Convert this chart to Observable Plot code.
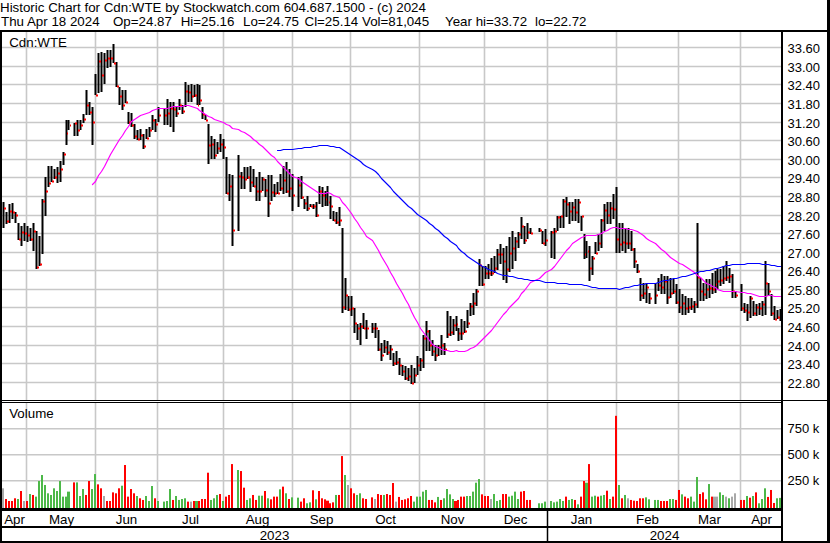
<!DOCTYPE html>
<html>
<head>
<meta charset="utf-8">
<script src="https://cdn.jsdelivr.net/npm/d3@7"></script>
<script src="https://cdn.jsdelivr.net/npm/@observablehq/plot@0.6"></script>
<style>
  html, body { margin: 0; padding: 0; background: #fff; }
  #chart { position: relative; width: 830px; height: 543px; overflow: hidden; background: #fff;
           font-family: "Liberation Sans", Arial, Helvetica, sans-serif; color: #000; }
  .hdr { position: absolute; font-size: 13.33px; line-height: 14px; white-space: pre; }
  .blk { position: absolute; background: #000; }
</style>
</head>
<body>
<div id="chart"></div>
<script>
// ---------------- DATA ----------------
const headerLine1 = "Historic Chart for Cdn:WTE by Stockwatch.com 604.687.1500 - (c) 2024";
const headerFields = ["Thu Apr 18 2024", "Op=24.87", "Hi=25.16", "Lo=24.75", "Cl=25.14", "Vol=81,045", "Year hi=33.72", "lo=22.72"];
const headerFieldX = [1, 113, 180.7, 243, 304.5, 362, 445, 535];

const symbol = "Cdn:WTE";
const firstDay = "2023-04-19";
const lastDay = "2024-04-18";
// market holidays (weekday slots left empty)
const holidays = ["2023-05-22", "2023-07-03", "2023-08-07", "2023-09-04", "2023-10-09",
                  "2023-12-25", "2023-12-26", "2024-01-01", "2024-02-19", "2024-03-29"];

const high = [
  28.59,28.27,28.54,28.56,28.27,27.94,27.84,27.94,27.84,27.78,27.91,27.67,27.51,28.70,29.40,29.78,29.78,29.67,29.73,29.94,30.21,31.26,31.26,
  31.15,31.24,31.26,31.46,32.21,31.84,31.67,32.75,33.42,33.46,33.40,33.51,33.51,33.72,33.13,32.32,32.21,32.21,31.51,31.48,31.13,30.92,30.97,30.81,30.97,31.03,31.40,31.30,31.67,
  31.62,31.94,31.84,31.84,31.67,31.94,31.73,32.48,32.38,32.43,32.38,32.43,32.38,31.67,31.40,31.13,30.75,30.65,30.54,30.81,30.65,30.07,29.51,29.46,
  30.11,29.57,29.73,29.73,29.78,29.67,29.40,29.57,29.40,29.35,29.46,29.46,29.19,29.24,29.51,29.78,29.89,29.67,29.51,
  29.40,29.43,28.70,28.81,28.54,28.54,28.60,29.13,29.08,28.97,29.13,28.81,28.32,28.27,28.43,27.78,26.16,25.57,25.57,25.19,24.65,24.70,25.03,24.78,
  24.70,24.70,24.48,24.05,24.16,24.11,24.00,23.73,23.78,23.57,23.35,23.30,23.24,23.35,23.24,23.62,23.57,24.32,24.76,24.48,24.16,23.97,24.00,24.32,24.05,25.08,24.92,24.81,24.92,24.54,24.81,24.76,25.13,25.35,25.67,25.78,26.75,26.54,26.54,26.59,26.81,26.86,27.08,27.24,27.13,27.19,27.46,27.67,27.46,27.62,28.13,27.84,27.94,27.78,
  27.78,27.67,27.73,
  27.67,27.78,28.16,28.16,28.70,28.75,28.59,28.59,28.70,28.70,28.16,27.57,27.35,27.19,26.86,27.30,27.57,28.05,28.54,28.59,28.59,28.86,29.08,27.94,27.94,27.78,27.78,27.67,27.13,26.59,26.16,26.00,26.00,25.67,
  26.00,26.16,26.27,26.22,26.22,26.16,26.11,25.94,25.78,25.62,25.57,25.51,25.51,25.40,27.91,26.16,26.00,26.11,26.11,26.32,26.38,26.43,26.43,26.54,26.70,26.48,26.27,25.73,
  25.94,25.35,25.30,25.57,25.40,25.30,25.35,25.40,26.70,26.00,25.62,25.24,25.13,25.16
];
const low = [
  27.78,27.89,27.91,28.05,27.91,27.37,27.19,27.35,27.30,27.35,27.02,26.43,26.54,26.92,28.16,29.08,29.24,29.35,29.21,29.24,29.81,30.43,30.92,
  30.72,30.72,30.92,31.15,31.40,31.40,30.43,32.05,32.11,32.16,32.43,32.92,32.97,33.08,32.32,31.73,31.57,31.80,31.13,31.03,30.65,30.59,30.59,30.32,30.65,30.70,30.92,30.86,31.19,
  31.08,31.08,31.03,30.86,31.35,31.57,31.46,31.67,31.84,31.84,32.00,31.73,31.73,31.30,31.24,29.84,30.00,30.00,30.16,30.21,30.00,28.86,28.65,27.19,
  27.67,29.03,29.03,29.35,28.92,29.10,28.65,28.65,28.97,28.75,28.11,28.65,28.75,28.86,28.97,28.86,28.90,28.75,28.32,
  28.43,28.70,28.38,28.32,28.43,28.38,28.13,28.54,28.43,28.49,28.49,28.05,28.00,27.89,27.84,25.03,25.13,25.08,24.92,24.38,24.16,24.00,24.50,24.19,
  24.38,24.21,23.78,23.46,23.73,23.67,23.51,23.30,23.35,23.03,22.97,22.86,22.81,22.72,22.75,23.03,23.13,23.24,23.78,23.80,23.62,23.46,23.62,23.67,23.67,24.21,24.27,24.32,24.43,24.11,24.16,24.38,24.54,24.92,24.97,25.24,25.89,25.89,26.11,26.11,26.21,26.30,26.40,26.60,26.08,26.00,26.35,26.43,26.70,27.13,27.40,27.24,27.40,27.57,
  27.62,27.24,27.19,
  26.81,26.75,27.67,27.78,27.78,28.11,27.89,28.00,28.00,27.94,27.67,26.75,26.81,26.05,26.24,26.92,27.03,27.13,27.67,27.89,27.89,28.05,26.97,26.97,27.03,26.97,27.08,27.03,26.48,26.30,25.40,25.46,25.35,25.30,
  25.30,25.73,25.62,25.62,25.30,25.51,25.62,25.30,25.03,24.97,24.97,25.03,25.13,25.03,25.19,25.40,25.40,25.46,25.51,25.62,25.67,25.78,25.89,25.94,26.05,26.00,25.51,25.51,
  25.08,25.03,24.76,24.86,24.92,24.92,24.97,24.92,24.97,25.57,24.92,24.78,24.81,24.75
];
const close = [
  28.40,27.98,28.32,28.29,28.18,27.42,27.64,27.59,27.54,27.41,27.67,26.49,26.61,28.65,28.97,29.23,29.27,29.40,29.54,29.66,30.14,30.83,31.09,
  31.15,30.94,31.08,31.28,31.74,31.51,31.19,32.06,33.15,32.72,33.20,33.26,33.26,33.10,32.34,32.04,31.73,31.82,31.19,31.09,30.75,30.65,30.78,30.40,30.68,30.94,31.26,31.11,31.40,
  31.40,31.48,31.65,31.60,31.48,31.74,31.54,32.18,32.15,32.02,32.05,31.73,31.89,31.46,31.26,30.43,30.48,30.13,30.35,30.48,30.38,28.88,29.12,27.71,
  29.44,29.40,29.34,29.40,29.24,29.12,28.95,28.95,29.34,29.00,28.58,28.92,28.88,28.90,29.06,29.30,28.95,29.05,28.84,
  29.14,28.75,28.56,28.40,28.46,28.46,28.20,28.97,28.83,28.70,28.59,28.46,28.01,27.96,28.01,25.21,25.61,25.14,25.17,24.70,24.54,24.60,24.52,24.52,
  24.54,24.52,23.85,23.66,23.92,23.77,23.85,23.39,23.44,23.35,23.13,22.92,22.97,22.75,23.03,23.35,23.51,24.21,24.43,23.97,23.80,23.67,23.92,23.97,23.85,24.35,24.41,24.63,24.67,24.38,24.38,24.43,24.70,25.26,25.35,25.73,26.56,25.97,26.32,26.30,26.32,26.48,26.92,26.94,26.70,26.43,26.97,27.11,27.35,27.57,27.84,27.38,27.62,27.60,
  27.69,27.28,27.37,
  27.65,27.67,28.11,28.15,28.62,28.54,28.32,28.43,28.27,28.59,28.14,26.94,27.03,26.46,26.81,26.97,27.27,28.02,28.34,28.19,28.40,28.38,27.40,27.24,27.30,27.28,27.28,27.08,26.70,26.38,25.59,25.67,25.86,25.49,
  25.59,25.91,25.86,26.05,25.53,25.67,25.73,25.37,25.21,25.35,25.19,25.21,25.26,25.32,26.18,25.73,25.64,25.78,25.84,25.81,25.94,26.05,26.07,26.16,26.19,26.21,25.73,25.59,
  25.17,25.10,25.06,25.51,25.03,25.21,25.19,25.30,26.00,25.73,25.03,24.83,24.88,25.14
];
// daily volume, thousands of shares
const volumeK = [
  173,70,51,51,77,70,147,51,51,118,109,93,243,301,205,125,109,173,147,243,93,93,141,
  230,230,99,166,109,243,166,310,211,173,99,51,51,134,125,173,198,397,93,166,125,99,77,61,99,51,195,77,51,
  45,51,166,61,99,61,70,77,45,45,51,51,51,70,70,323,61,77,109,118,51,93,109,406,
  349,339,179,61,77,109,61,102,102,147,77,67,93,93,163,189,125,70,86,
  83,45,77,29,38,154,67,147,77,67,54,29,38,109,109,483,301,205,173,125,109,125,77,70,
  86,70,118,109,109,118,109,224,45,90,61,67,77,99,45,93,93,141,157,61,61,38,90,61,77,166,115,70,51,61,93,93,99,99,141,227,262,115,99,99,70,118,51,61,118,118,93,102,141,70,141,147,61,61,
  29,29,45,
  51,38,45,70,51,93,61,70,61,19,93,243,227,406,93,102,93,102,109,150,70,93,870,205,77,109,77,61,54,51,77,77,86,67,
  61,61,51,51,51,70,70,61,157,115,93,77,93,45,282,118,134,67,214,93,93,93,134,109,93,77,93,125,
  61,61,99,83,99,134,29,70,173,90,157,32,77,81.045
];
// volume bar colour: u = up (green), d = down (red), n = unchanged (grey)
const direction = (
  "nddddudndu" + "duuuuuuuuu" + "uuu" +
  "duuudduudd" + "nddddduddd" + "dudduuudu" +
  "uuuduuuudn" + "dudddduuud" + "uddd" +
  "udduudduud" + "udddududu" +
  "udduudu ddd".replace(" ", "") + "ddduddundd" + "uudd" +
  "dnddudddnd" + "dddduuuuud" + "dduduuuudd" + "dduuuuuddd" + "nuuudduuuu" + "dddd" +
  "uuu" +
  "uuuuuduudu" + "dduduuduud" + "uddudunddd" + "dduu" +
  "uuddduuddu" + "dduuudddud" + "nnuununn" +
  "ddududuuudddu" + "u"
).split("");

const priceTicks = [22.8, 23.4, 24.0, 24.6, 25.2, 25.8, 26.4, 27.0, 27.6, 28.2, 28.8, 29.4, 30.0, 30.6, 31.2, 31.8, 32.4, 33.0, 33.6];
const volumeTicks = [250000, 500000, 750000];
// month boundaries, in weekday-slot units (first entry = left edge of the chart)
const monthNames = ["Apr", "May", "Jun", "Jul", "Aug", "Sep", "Oct", "Nov", "Dec", "Jan", "Feb", "Mar", "Apr"];
const monthEdges = [-0.34, 7.83, 30.80, 51.83, 73.80, 96.98, 116.66, 139.84, 161.67, 182.63, 205.81, 226.64, 247.66];
const chartEndSlot = 261.57;
const yearNames = ["2023", "2024"];
const yearEdges = [-0.34, 182.63];

const maShort = 30, maLong = 90;

// ---------------- BUILD ROWS ----------------
const parse = d3.utcParse("%Y-%m-%d"), fmt = d3.utcFormat("%Y-%m-%d");
const weekdays = d3.utcDays(parse(firstDay), d3.utcDay.offset(parse(lastDay), 1)).filter(d => d.getUTCDay() % 6 !== 0);
const hol = new Set(holidays);
const trades = [];
weekdays.forEach((d, s) => { if (!hol.has(fmt(d))) trades.push({date: d, s}); });
trades.forEach((t, i) => {
  t.high = high[i]; t.low = low[i]; t.close = close[i];
  t.vol = volumeK[i] * 1000; t.dir = direction[i];
});
if (trades.length !== high.length || close.length !== high.length || volumeK.length !== high.length || direction.length !== high.length)
  console.warn("length mismatch", trades.length, high.length, low.length, close.length, volumeK.length, direction.length);

function movingAverage(k) {
  return trades.map((t, i) => ({s: t.s, v: i >= k - 1 ? d3.mean(trades.slice(i - k + 1, i + 1), d => d.close) : NaN}));
}
const maS = movingAverage(maShort), maL = movingAverage(maLong);

const gridSlots = monthEdges.slice(1);
const monthLabels = monthNames.map((m, i) => ({m, mid: (monthEdges[i] + (i + 1 < monthEdges.length ? monthEdges[i + 1] : chartEndSlot)) / 2}));
const yearLabels = yearNames.map((y, i) => ({y, mid: (yearEdges[i] + (i + 1 < yearEdges.length ? yearEdges[i + 1] : chartEndSlot)) / 2}));

// ---------------- DRAW ----------------
const chart = document.getElementById("chart");
const FONT = "'Liberation Sans', Arial, Helvetica, sans-serif";
const GRID = "#c8c8c8";
const xOpt = {domain: [0, 261], range: [3, 780], round: true, axis: null};
const baseStyle = {fontFamily: FONT, background: "transparent", color: "#000"};

function place(el, top) {
  el.style.position = "absolute"; el.style.left = "0px"; el.style.top = top + "px";
  chart.appendChild(el);
}

// header
const h1 = document.createElement("div");
h1.className = "hdr"; h1.style.left = "0px"; h1.style.top = "1.1px"; h1.textContent = headerLine1;
chart.appendChild(h1);
headerFields.forEach((t, i) => {
  const d = document.createElement("div");
  d.className = "hdr"; d.style.left = headerFieldX[i] + "px"; d.style.top = "15.1px"; d.textContent = t;
  chart.appendChild(d);
});

// price panel
const pricePlot = Plot.plot({
  width: 830, height: 368,
  marginLeft: 2, marginRight: 48, marginTop: 0, marginBottom: 0,
  style: baseStyle,
  x: xOpt,
  y: {domain: [22.8, 33.6], range: [349.7, 15.3], round: true, axis: null},
  marks: [
    Plot.ruleY(priceTicks, {stroke: GRID, strokeWidth: 1.6}),
    Plot.ruleX(gridSlots, {stroke: GRID, strokeWidth: 1.6}),
    Plot.ruleX(trades, {x: "s", y1: "low", y2: "high", stroke: "#000", strokeWidth: 2}),
    Plot.ruleY(trades, {y: "close", x1: d => d.s + 0.34, x2: d => d.s + 1.0, stroke: "#ff0000", strokeWidth: 2}),
    Plot.line(maS, {x: "s", y: "v", stroke: "#ff00ff", strokeWidth: 1.2}),
    Plot.line(maL, {x: "s", y: "v", stroke: "#0000ff", strokeWidth: 1.2}),
    Plot.text(priceTicks, {y: d => d, text: d => d.toFixed(2), frameAnchor: "right", textAnchor: "start", dx: 5, dy: 1, fontSize: 13, fill: "#000"}),
    Plot.text([symbol], {frameAnchor: "top-left", textAnchor: "start", lineAnchor: "bottom", dx: 6.7, dy: 14, fontSize: 13.33, fill: "#000"})
  ]
});
place(pricePlot, 32);

// volume panel
const volPlot = Plot.plot({
  width: 830, height: 108,
  marginLeft: 2, marginRight: 48, marginTop: 0, marginBottom: 0,
  style: baseStyle,
  x: xOpt,
  y: {domain: [0, 750000], range: [104.3, 26.3], axis: null},
  color: {domain: ["u", "d", "n"], range: ["#4cb848", "#ff0000", "#a8a8a8"]},
  marks: [
    Plot.ruleY(volumeTicks, {stroke: GRID, strokeWidth: 1.6}),
    Plot.ruleX(gridSlots, {stroke: GRID, strokeWidth: 1.6}),
    Plot.rect(trades, {x1: d => d.s - 0.34, x2: d => d.s + 0.34, y1: 0, y2: "vol", fill: "dir", insetBottom: -4}),
    Plot.text(volumeTicks, {y: d => d, text: d => d / 1000 + " k", frameAnchor: "right", textAnchor: "start", dx: 5, dy: 0, fontSize: 13, fill: "#000"}),
    Plot.text(["Volume"], {frameAnchor: "top-left", textAnchor: "start", lineAnchor: "bottom", dx: 6.7, dy: 15.7, fontSize: 13.33, fill: "#000"})
  ]
});
place(volPlot, 402);

// time axis (months and years)
const axisPlot = Plot.plot({
  width: 830, height: 35,
  marginLeft: 2, marginRight: 48, marginTop: 2, marginBottom: 2,
  style: baseStyle,
  x: xOpt,
  marks: [
    Plot.ruleX([yearEdges[1]], {stroke: "#000", strokeWidth: 1.5}),
    Plot.text(monthLabels, {x: "mid", text: "m", frameAnchor: "top", lineAnchor: "bottom", dy: 13, fontSize: 13.33, fill: "#000"}),
    Plot.text(yearLabels, {x: "mid", text: "y", frameAnchor: "top", lineAnchor: "bottom", dy: 29, fontSize: 13.33, fill: "#000"})
  ]
});
place(axisPlot, 508);

// frame lines
const borders = [
  [0, 30, 830, 2],      // top rule under header
  [0, 30, 2, 513],      // left edge
  [827, 0, 3, 543],     // outer right edge
  [781, 30, 2, 513],    // panel right edge
  [0, 399.7, 830, 1],   // price panel bottom
  [0, 401.5, 783, 1],   // volume panel top
  [0, 508.3, 783, 2.4], // volume panel bottom
  [0, 526, 783, 1.7],   // month / year separator
  [0, 540.8, 830, 2.2]  // bottom edge
];
borders.forEach(([l, t, w, h]) => {
  const b = document.createElement("div");
  b.className = "blk";
  b.style.left = l + "px"; b.style.top = t + "px"; b.style.width = w + "px"; b.style.height = h + "px";
  chart.appendChild(b);
});
</script>
</body>
</html>
